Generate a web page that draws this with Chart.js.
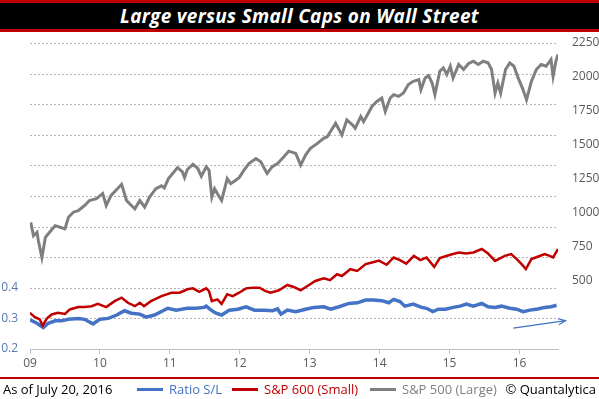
<!DOCTYPE html>
<html>
<head>
<meta charset="utf-8">
<script src="https://cdn.jsdelivr.net/npm/chart.js@4.4.0/dist/chart.umd.min.js"></script>
<style>
  html, body { margin: 0; padding: 0; background: #fff; }
  #wrap { position: relative; width: 599px; height: 399px; overflow: hidden; font-family: "Open Sans", sans-serif; }
  #chart { position: absolute; left: 0; top: 0; }
  #title {
    position: absolute; left: 0; top: 0; width: 599px; height: 26px;
    background: #000; border-top: 3px solid #c00000; border-bottom: 3px solid #c00000;
    color: #fff; font: italic bold 19px "Open Sans", sans-serif; letter-spacing: 0.3px;
    line-height: 26px; text-align: center;
  }
  #footLine { position: absolute; left: 0; top: 377px; width: 599px; height: 2px; background: #c00000; }
  .ft { position: absolute; top: 381px; font-size: 13px; line-height: 17px; white-space: nowrap; }
  .sw { position: absolute; top: 388px; height: 3px; }
</style>
</head>
<body>
<div id="wrap">
  <canvas id="chart" width="599" height="399"></canvas>
  <div id="title"></div>
  <div id="footLine"></div>
  <div id="footer"></div>
</div>
<script>
// 标题与注释
const titleText = 'Large versus Small Caps on Wall Street';
const asOfText = 'As of July 20, 2016';
const creditText = '© Quantalytica';

// 系列名称与颜色
const seriesNames = ['Ratio S/L', 'S&P 600 (Small)', 'S&P 500 (Large)'];
const seriesColors = ['#4472c4', '#c00000', '#7f7f7f'];

// 年份刻度
const yearTicks = [2009, 2010, 2011, 2012, 2013, 2014, 2015, 2016];

// S&P 500 (右轴)
const spxDates = [2009.01, 2009.05, 2009.10, 2009.12, 2009.17, 2009.22, 2009.28, 2009.36, 2009.43, 2009.50,
  2009.55, 2009.62, 2009.69, 2009.78, 2009.85, 2009.95, 2010.04, 2010.09, 2010.16, 2010.31,
  2010.38, 2010.45, 2010.50, 2010.57, 2010.64, 2010.71, 2010.80, 2010.88, 2010.92, 2010.98,
  2011.04, 2011.11, 2011.18, 2011.21, 2011.25, 2011.33, 2011.40, 2011.45, 2011.52, 2011.56,
  2011.60, 2011.64, 2011.68, 2011.74, 2011.82, 2011.87, 2011.94, 2011.99, 2012.06, 2012.13,
  2012.23, 2012.30, 2012.39, 2012.46, 2012.54, 2012.63, 2012.70, 2012.80, 2012.87, 2012.94,
  2013.01, 2013.11, 2013.20, 2013.25, 2013.37, 2013.46, 2013.53, 2013.61, 2013.65, 2013.73,
  2013.77, 2013.89, 2013.96, 2014.03, 2014.08, 2014.15, 2014.20, 2014.27, 2014.34, 2014.41,
  2014.48, 2014.56, 2014.59, 2014.65, 2014.70, 2014.75, 2014.79, 2014.86, 2014.91, 2014.96,
  2015.01, 2015.05, 2015.13, 2015.20, 2015.27, 2015.34, 2015.41, 2015.48, 2015.55, 2015.60,
  2015.65, 2015.69, 2015.73, 2015.80, 2015.86, 2015.92, 2015.98, 2016.05, 2016.10, 2016.17,
  2016.24, 2016.31, 2016.38, 2016.45, 2016.48, 2016.52, 2016.55];
const spxValues = [932, 833, 858, 796, 673, 821, 858, 907, 895, 883,
  969, 1006, 1018, 1055, 1092, 1105, 1142, 1055, 1129, 1211,
  1092, 1055, 1031, 1092, 1043, 1117, 1179, 1200, 1185, 1253,
  1290, 1334, 1302, 1260, 1320, 1359, 1327, 1270, 1339, 1315,
  1117, 1179, 1142, 1092, 1253, 1216, 1241, 1260, 1315, 1364,
  1401, 1376, 1290, 1339, 1364, 1413, 1455, 1438, 1352, 1426,
  1475, 1512, 1549, 1561, 1660, 1574, 1685, 1648, 1623, 1709,
  1672, 1783, 1820, 1845, 1746, 1845, 1870, 1857, 1882, 1944,
  1968, 1981, 1907, 1993, 2010, 1956, 1870, 2042, 2067, 2018,
  2079, 1993, 2092, 2055, 2099, 2116, 2092, 2116, 2104, 2055,
  1882, 1956, 1882, 2055, 2104, 2079, 1993, 1907, 1833, 1968,
  2055, 2092, 2079, 2129, 2005, 2116, 2166];

// S&P 600 (右轴)
const smlDates = [2009.00, 2009.07, 2009.14, 2009.18, 2009.24, 2009.31, 2009.40, 2009.50, 2009.57, 2009.69,
  2009.78, 2009.88, 2009.97, 2010.09, 2010.21, 2010.31, 2010.40, 2010.50, 2010.57, 2010.63,
  2010.73, 2010.88, 2011.02, 2011.14, 2011.25, 2011.33, 2011.42, 2011.52, 2011.56, 2011.60,
  2011.68, 2011.74, 2011.82, 2011.90, 2011.99, 2012.09, 2012.18, 2012.28, 2012.37, 2012.44,
  2012.56, 2012.68, 2012.77, 2012.87, 2012.99, 2013.08, 2013.20, 2013.29, 2013.39, 2013.46,
  2013.58, 2013.68, 2013.80, 2013.89, 2013.99, 2014.10, 2014.20, 2014.29, 2014.38, 2014.49,
  2014.58, 2014.67, 2014.78, 2014.86, 2015.01, 2015.13, 2015.24, 2015.34, 2015.46, 2015.55,
  2015.65, 2015.70, 2015.79, 2015.88, 2015.96, 2016.03, 2016.09, 2016.17, 2016.26, 2016.36,
  2016.43, 2016.48, 2016.55];
const smlValues = [266, 234, 217, 172, 224, 254, 266, 258, 291, 308,
  308, 315, 332, 308, 352, 377, 340, 315, 340, 315,
  352, 389, 414, 414, 439, 446, 420, 446, 426, 352,
  365, 332, 402, 389, 414, 446, 451, 451, 426, 414,
  432, 471, 456, 432, 471, 500, 520, 506, 550, 537,
  587, 574, 624, 636, 650, 619, 673, 654, 628, 685,
  654, 673, 604, 668, 693, 710, 702, 710, 735, 702,
  648, 661, 685, 698, 661, 624, 587, 661, 678, 698,
  685, 673, 735];

// 比率 S/L (左轴)
const ratioDates = [2009.00, 2009.10, 2009.19, 2009.26, 2009.36, 2009.45, 2009.55, 2009.69, 2009.78, 2009.90,
  2010.00, 2010.12, 2010.24, 2010.35, 2010.45, 2010.57, 2010.66, 2010.78, 2010.97, 2011.09,
  2011.25, 2011.37, 2011.49, 2011.52, 2011.59, 2011.66, 2011.74, 2011.85, 2011.97, 2012.09,
  2012.21, 2012.35, 2012.47, 2012.54, 2012.59, 2012.68, 2012.80, 2012.94, 2013.06, 2013.20,
  2013.30, 2013.42, 2013.56, 2013.68, 2013.80, 2013.91, 2014.03, 2014.13, 2014.20, 2014.29,
  2014.36, 2014.48, 2014.60, 2014.67, 2014.76, 2014.84, 2014.94, 2015.05, 2015.15, 2015.24,
  2015.34, 2015.46, 2015.55, 2015.65, 2015.74, 2015.86, 2015.96, 2016.05, 2016.15, 2016.26,
  2016.36, 2016.45, 2016.53];
const ratioValues = [0.295, 0.284, 0.270, 0.284, 0.292, 0.292, 0.297, 0.300, 0.297, 0.282,
  0.297, 0.300, 0.311, 0.325, 0.317, 0.314, 0.304, 0.311, 0.333, 0.327,
  0.333, 0.333, 0.336, 0.340, 0.327, 0.317, 0.311, 0.327, 0.330, 0.338,
  0.327, 0.327, 0.325, 0.331, 0.314, 0.327, 0.322, 0.330, 0.336, 0.338,
  0.330, 0.338, 0.349, 0.351, 0.360, 0.360, 0.358, 0.351, 0.362, 0.355,
  0.340, 0.347, 0.336, 0.333, 0.322, 0.330, 0.330, 0.336, 0.340, 0.347,
  0.340, 0.349, 0.338, 0.336, 0.340, 0.333, 0.330, 0.322, 0.327, 0.331,
  0.336, 0.338, 0.343];

// 趋势箭头 (左轴坐标)
const arrowDates = [2015.91, 2016.66];
const arrowValues = [0.268, 0.2925];

function toPoints(xs, ys) {
    return xs.map((x, i) => ({ x: x, y: ys[i] }));
}

// 左轴虚线网格
const dottedGridPlugin = {
    id: 'dottedGrid',
    beforeDatasetsDraw(chart) {
        const ctx = chart.ctx;
        const ys = chart.scales.y;
        const area = chart.chartArea;
        ctx.save();
        ctx.strokeStyle = '#b3b3b3';
        ctx.lineWidth = 1;
        ctx.setLineDash([2, 2]);
        ys.ticks.forEach(function(t) {
            if (t.value <= ys.min + 1e-6) return;
            const y = Math.round(ys.getPixelForValue(t.value)) + 0.5;
            ctx.beginPath();
            ctx.moveTo(area.left, y);
            ctx.lineTo(area.right, y);
            ctx.stroke();
        });
        ctx.restore();
    }
};

// 趋势箭头插件
const arrowPlugin = {
    id: 'trendArrow',
    afterDatasetsDraw(chart) {
        const ctx = chart.ctx;
        const xs = chart.scales.x, ys = chart.scales.y;
        const x1 = xs.getPixelForValue(arrowDates[0]), y1 = ys.getPixelForValue(arrowValues[0]);
        const x2 = xs.getPixelForValue(arrowDates[1]), y2 = ys.getPixelForValue(arrowValues[1]);
        const a = Math.atan2(y2 - y1, x2 - x1);
        ctx.save();
        ctx.strokeStyle = seriesColors[0];
        ctx.lineWidth = 1.2;
        ctx.beginPath();
        ctx.moveTo(x1, y1);
        ctx.lineTo(x2, y2);
        ctx.moveTo(x2 - 8 * Math.cos(a - 0.4), y2 - 8 * Math.sin(a - 0.4));
        ctx.lineTo(x2, y2);
        ctx.lineTo(x2 - 8 * Math.cos(a + 0.4), y2 - 8 * Math.sin(a + 0.4));
        ctx.stroke();
        ctx.restore();
    }
};

document.getElementById('title').textContent = titleText;

// 底部说明和图例
const footer = document.getElementById('footer');
function addText(text, pos, color, fromRight) {
    const el = document.createElement('div');
    el.className = 'ft';
    if (fromRight) el.style.right = pos + 'px';
    else el.style.left = pos + 'px';
    el.style.color = color;
    el.textContent = text;
    footer.appendChild(el);
}
function addSwatch(left, width, color) {
    const el = document.createElement('div');
    el.className = 'sw';
    el.style.left = left + 'px';
    el.style.width = width + 'px';
    el.style.background = color;
    footer.appendChild(el);
}
addText(asOfText, 3, '#000');
const legendLeft = [137, 232, 370];
seriesNames.forEach((name, i) => {
    addSwatch(legendLeft[i], 26, seriesColors[i]);
    addText(name, legendLeft[i] + 32, seriesColors[i]);
});
addText(creditText, 3, '#000', true);

const ctx = document.getElementById('chart').getContext('2d');
const chart = new Chart(ctx, {
    type: 'line',
    data: {
        datasets: [
            {
                label: seriesNames[2],
                data: toPoints(spxDates, spxValues),
                yAxisID: 'y2',
                borderColor: seriesColors[2],
                borderWidth: 3,
                pointRadius: 0,
                tension: 0
            },
            {
                label: seriesNames[1],
                data: toPoints(smlDates, smlValues),
                yAxisID: 'y2',
                borderColor: seriesColors[1],
                borderWidth: 2.5,
                pointRadius: 0,
                tension: 0
            },
            {
                label: seriesNames[0],
                data: toPoints(ratioDates, ratioValues),
                yAxisID: 'y',
                borderColor: seriesColors[0],
                borderWidth: 3.5,
                pointRadius: 0,
                tension: 0
            }
        ]
    },
    options: {
        responsive: false,
        animation: false,
        layout: {
            padding: { top: 43, bottom: 20, left: 0, right: 0 }
        },
        plugins: {
            legend: { display: false },
            title: { display: false },
            tooltip: { enabled: false }
        },
        scales: {
            x: {
                type: 'linear',
                min: 2009,
                max: 2016.55,
                afterFit: function(scale) { scale.height = 30; },
                grid: {
                    drawOnChartArea: false,
                    drawTicks: true,
                    tickLength: 5,
                    color: '#bfbfbf'
                },
                border: { color: '#bfbfbf', width: 1 },
                afterBuildTicks: function(scale) {
                    scale.ticks = yearTicks.map(v => ({ value: v }));
                },
                ticks: {
                    includeBounds: false,
                    padding: 2,
                    color: '#595959',
                    font: { family: 'Open Sans', size: 12 },
                    maxRotation: 0,
                    callback: function(value) {
                        return String(value % 100).padStart(2, '0');
                    }
                }
            },
            y: {
                position: 'left',
                min: 0.2,
                max: 1.2,
                afterFit: function(scale) { scale.width = 30; },
                grid: { display: false, drawTicks: false },
                border: { display: false },
                ticks: {
                    stepSize: 0.1,
                    padding: 12,
                    color: '#5878b0',
                    font: { family: 'Open Sans', size: 12 },
                    callback: function(value) {
                        return value < 0.4001 ? value.toFixed(1) : '';
                    }
                }
            },
            y2: {
                position: 'right',
                min: 0,
                max: 2250,
                afterFit: function(scale) { scale.width = 41; },
                grid: { display: false, drawTicks: false },
                border: { display: false },
                ticks: {
                    stepSize: 250,
                    padding: 14,
                    color: '#595959',
                    font: { family: 'Open Sans', size: 12 },
                    callback: function(value) {
                        return value >= 500 ? String(value) : '';
                    }
                }
            }
        }
    },
    plugins: [dottedGridPlugin, arrowPlugin]
});
</script>
</body>
</html>
